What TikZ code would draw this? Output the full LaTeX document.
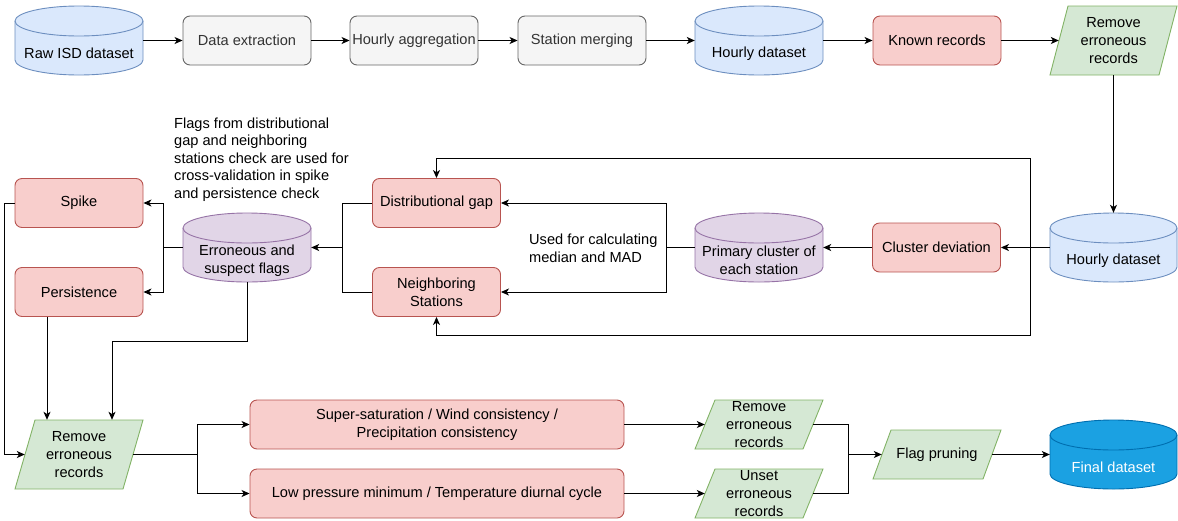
\documentclass[tikz,border=0pt]{standalone}
\usepackage{fontspec}
\setmainfont{Liberation Sans}
\usetikzlibrary{arrows.meta,calc}
\definecolor{bluef}{HTML}{DAE8FC}
\definecolor{blued}{HTML}{6C8EBF}
\definecolor{grayf}{HTML}{F5F5F5}
\definecolor{grayd}{HTML}{666666}
\definecolor{grayt}{HTML}{333333}
\definecolor{redf}{HTML}{F8CECC}
\definecolor{redd}{HTML}{B85450}
\definecolor{greenf}{HTML}{D5E8D4}
\definecolor{greend}{HTML}{82B366}
\definecolor{purpf}{HTML}{E1D5E7}
\definecolor{purpd}{HTML}{9673A6}
\definecolor{finf}{HTML}{1BA1E2}
\definecolor{find}{HTML}{006EAF}
\tikzset{
  txt/.style={font=\fontsize{14.6}{17.6}\selectfont, align=center, inner sep=0pt},
  procbox/.style={txt, rectangle, rounded corners=7pt, minimum width=128pt, minimum height=49pt, line width=0.9pt},
  graybox/.style={procbox, fill=grayf, draw=grayd, text=grayt},
  redbox/.style={procbox, fill=redf, draw=redd},
  bluecyl/.style={fill=bluef, draw=blued, line width=0.9pt},
  purpcyl/.style={fill=purpf, draw=purpd, line width=0.9pt},
  fincyl/.style={fill=finf, draw=find, line width=0.9pt},
  greenpar/.style={fill=greenf, draw=greend, line width=0.9pt},
  conn/.style={line width=1pt, draw=black, -{Stealth[length=8pt,width=7pt,inset=2.2pt]}},
  plainln/.style={line width=1pt, draw=black},
}
% cylinder: name, L, T, R, B, style, text, text colour
\newcommand{\dbcyl}[8]{%
  \filldraw[#6] (#2,{-#3-15}) -- (#2,{-#5+15})
    arc[start angle=180,end angle=360,x radius={(#4-#2)/2*1pt},y radius=15pt]
    -- (#4,{-#3-15})
    arc[start angle=0,end angle=180,x radius={(#4-#2)/2*1pt},y radius=15pt] -- cycle;
  \draw[#6, fill=none] (#2,{-#3-15})
    arc[start angle=180,end angle=360,x radius={(#4-#2)/2*1pt},y radius=15pt];
  \node[rectangle, inner sep=0pt, minimum width={#4pt-#2pt}, minimum height={#5pt-#3pt}] (#1) at ({(#2+#4)/2},{-(#3+#5)/2}) {};
  \node[txt, text=#8] (#1t) at ({(#2+#4)/2},{-(#3+#5)/2-13}) {#7};
}
% parallelogram: name, L, T, R, B, slant, text
\newcommand{\parnode}[7]{%
  \filldraw[greenpar] (#2,-#5) -- ({#2+#6},-#3) -- (#4,-#3) -- ({#4-#6},-#5) -- cycle;
  \node[txt, minimum width={#4pt-#2pt}, minimum height={#5pt-#3pt}] (#1) at ({(#2+#4)/2},{-(#3+#5)/2}) {#7};
}
\begin{document}
\begin{tikzpicture}[x=1pt,y=1pt]
\useasboundingbox (0,0) rectangle (1178,-520);

% ---- top row
\dbcyl{raw}{15}{6}{143}{75}{bluecyl}{Raw ISD dataset}{black}
\node[graybox] (dex) at (247,-40.5) {Data extraction};
\node[graybox] (hag) at (414,-40.5) {Hourly aggregation};
\node[graybox] (smg) at (582,-40.5) {Station merging};
\dbcyl{hd1}{695}{6}{823}{75}{bluecyl}{Hourly dataset}{black}
\node[redbox] (kr) at (937,-40.5) {Known records};
\parnode{rm1}{1050}{6}{1177}{75}{18}{Remove\\erroneous\\records}

% ---- middle row
\dbcyl{hd2}{1050}{213}{1177}{282}{bluecyl}{Hourly dataset}{black}
\node[redbox] (cd) at (936.5,-247.5) {Cluster deviation};
\dbcyl{pc}{695}{213}{823}{282}{purpcyl}{Primary cluster of\\each station}{black}
\node[redbox] (dg) at (436.5,-203) {Distributional gap};
\node[redbox] (ns) at (436.5,-292) {Neighboring\\Stations};
\dbcyl{ef}{183}{213}{311}{282}{purpcyl}{Erroneous and\\suspect flags}{black}
\node[redbox] (sp) at (79,-203) {Spike};
\node[redbox] (ps) at (79,-292) {Persistence};

\node[txt, anchor=west, align=left] (flagnote) at (174,-159.5) {Flags from distributional\\gap and neighboring\\stations check are used for\\cross-validation in spike\\and persistence check};
\node[txt, anchor=west, align=left] (usednote) at (529,-248) {Used for calculating\\median and MAD};

% ---- bottom row
\parnode{rm2}{15}{420}{143}{489}{20}{Remove\\erroneous\\records}
\node[redbox, minimum width=374pt] (ss) at (437,-424.5) {Super-saturation / Wind consistency /\\Precipitation consistency};
\node[redbox, minimum width=374pt] (lp) at (437,-493.5) {Low pressure minimum / Temperature diurnal cycle};
\parnode{rm3}{695}{400}{823}{449}{20}{Remove\\erroneous\\records}
\parnode{un}{695}{469}{823}{518}{20}{Unset\\erroneous\\records}
\parnode{fp}{873}{430}{1001}{479}{18}{Flag pruning}
\dbcyl{fd}{1050}{420}{1177}{489}{fincyl}{Final dataset}{white}

% ---- connectors: top row
\draw[conn] (raw.east) -- (dex.west);
\draw[conn] (dex.east) -- (hag.west);
\draw[conn] (hag.east) -- (smg.west);
\draw[conn] (smg.east) -- (hd1.west);
\draw[conn] (hd1.east) -- (kr.west);
\draw[conn] (kr.east) -- ([xshift=9pt]rm1.west);
\draw[conn] (rm1.south) -- (hd2.north);

% ---- middle
\draw[conn] (hd2.west) -- (cd.east);
\draw[conn] (cd.west) -- (pc.east);
\coordinate (jr) at (1030,-247.5);
\draw[conn] (jr) |- ([yshift=20pt]dg.north) -- (dg.north);
\draw[conn] (jr) |- ([yshift=-19pt]ns.south) -- (ns.south);
\coordinate (jp) at (666,-247.5);
\draw[conn] (pc.west) -- (jp) |- (dg.east);
\draw[conn] (jp) |- (ns.east);
\coordinate (je) at (342,-247.5);
\draw[plainln] (dg.west) -| (je);
\draw[plainln] (ns.west) -| (je);
\draw[conn] (je) -- (ef.east);
\coordinate (jf) at (163,-247.5);
\draw[plainln] (ef.west) -- (jf);
\draw[conn] (jf) |- (sp.east);
\draw[conn] (jf) |- (ps.east);

% ---- to bottom
\draw[conn] (sp.west) -- ++(-10,0) |- ([xshift=10pt]rm2.west);
\draw[conn] ([xshift=-32pt]ps.south) -- ([xshift=-32pt]rm2.north);
\draw[conn] (ef.south) -- ++(0,-59) -| ([xshift=33pt]rm2.north);
\coordinate (jb) at (197,-454.5);
\draw[plainln] ([xshift=-10pt]rm2.east) -- (jb);
\draw[conn] (jb) |- (ss.west);
\draw[conn] (jb) |- (lp.west);
\draw[conn] (ss.east) -- ([xshift=10pt]rm3.west);
\draw[conn] (lp.east) -- ([xshift=10pt]un.west);
\coordinate (jg) at (848,-454.5);
\draw[plainln] ([xshift=-10pt]rm3.east) -| (jg);
\draw[plainln] ([xshift=-10pt]un.east) -| (jg);
\draw[conn] (jg) -- ([xshift=9pt]fp.west);
\draw[conn] ([xshift=-9pt]fp.east) -- (fd.west);
\end{tikzpicture}
\end{document}
